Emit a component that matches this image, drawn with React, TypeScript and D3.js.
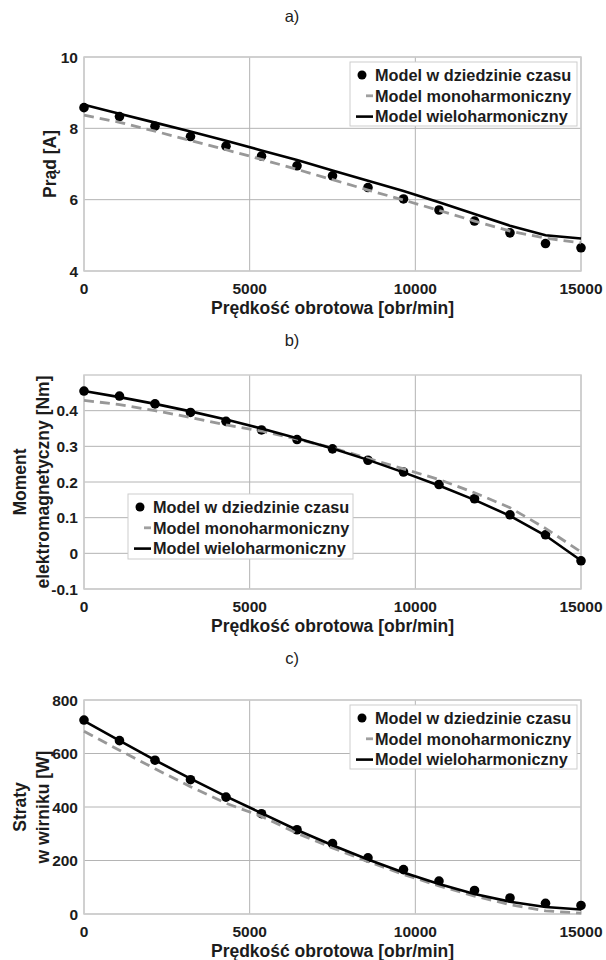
import React from 'react';
import * as d3 from 'd3';

// rotational speed of the sample points [obr/min]
const speeds = [0, 1071, 2143, 3214, 4286, 5357, 6429, 7500, 8571, 9643, 10714, 11786, 12857, 13929, 15000];
const xTicks = [0, 5000, 10000, 15000];
const xLabel = 'Prędkość obrotowa [obr/min]';
const legendLabels = ['Model w dziedzinie czasu', 'Model monoharmoniczny', 'Model wieloharmoniczny'];

// a) current
const currentTime = [8.58, 8.33, 8.06, 7.77, 7.5, 7.22, 6.95, 6.67, 6.34, 6.02, 5.71, 5.4, 5.07, 4.77, 4.65];
const currentMono = [8.37, 8.17, 7.92, 7.66, 7.4, 7.13, 6.85, 6.56, 6.27, 5.99, 5.7, 5.4, 5.12, 4.92, 4.79];
const currentMulti = [8.66, 8.41, 8.16, 7.91, 7.65, 7.38, 7.11, 6.82, 6.53, 6.24, 5.93, 5.6, 5.27, 5.0, 4.91];
const currentTicks = [4, 6, 8, 10];

// b) torque
const torqueTime = [0.455, 0.441, 0.419, 0.395, 0.37, 0.346, 0.319, 0.293, 0.261, 0.228, 0.193, 0.153, 0.108, 0.052, -0.021];
const torqueMono = [0.429, 0.417, 0.4, 0.381, 0.36, 0.343, 0.32, 0.296, 0.266, 0.237, 0.207, 0.17, 0.128, 0.07, 0.004];
const torqueMulti = [0.455, 0.438, 0.419, 0.398, 0.375, 0.35, 0.323, 0.294, 0.262, 0.227, 0.19, 0.15, 0.105, 0.05, -0.02];
const torqueTicks = [-0.1, 0, 0.1, 0.2, 0.3, 0.4];

// c) rotor losses
const lossTime = [725, 648, 575, 502, 437, 375, 315, 263, 210, 166, 123, 88, 60, 40, 32];
const lossMono = [683, 612, 543, 476, 414, 365, 302, 247, 196, 148, 105, 67, 35, 12, 3];
const lossMulti = [722, 648, 575, 506, 440, 377, 314, 257, 204, 155, 112, 75, 46, 26, 17];
const lossTicks = [0, 200, 400, 600, 800];

const font = 'Liberation Sans, Arial, Helvetica, sans-serif';
const textColor = '#1c1c1c';
const plotLeft = 84;
const plotRight = 581;
const plotH = 214;

const panels = [
  {
    title: 'a)', titleY: 22, top: 57, yDomain: [4, 10], yTicks: currentTicks,
    yLabel: ['Prąd [A]'], time: currentTime, mono: currentMono, multi: currentMulti,
    legend: { x: 350, y: 62, w: 227, h: 64 },
  },
  {
    title: 'b)', titleY: 346, top: 375, yDomain: [-0.1, 0.5], yTicks: torqueTicks,
    yLabel: ['Moment', 'elektromagnetyczny [Nm]'], time: torqueTime, mono: torqueMono, multi: torqueMulti,
    legend: { x: 128, y: 494, w: 225, h: 65 },
  },
  {
    title: 'c)', titleY: 664, top: 700, yDomain: [0, 800], yTicks: lossTicks,
    yLabel: ['Straty', 'w wirniku [W]'], time: lossTime, mono: lossMono, multi: lossMulti,
    legend: { x: 350, y: 705, w: 227, h: 64 },
  },
];

function Panel({ p }: { p: any }) {
  const x = d3.scaleLinear().domain([0, 15000]).range([plotLeft, plotRight]);
  const y = d3.scaleLinear().domain(p.yDomain).range([p.top + plotH, p.top]);
  const line = d3
    .line<number>()
    .x((_, i) => x(speeds[i]))
    .y(d => y(d));
  const bottom = p.top + plotH;
  const midY = p.top + plotH / 2;
  const lg = p.legend;

  return (
    <g>
      <text x={292} y={p.titleY} textAnchor="middle" fontSize={16.5} fill={textColor}>
        {p.title}
      </text>

      {/* grid */}
      {p.yTicks.map((t: number) => (
        <line key={'gy' + t} x1={plotLeft} x2={plotRight} y1={y(t)} y2={y(t)} stroke="#b4b4b4" strokeWidth={1} />
      ))}
      {xTicks.map(t => (
        <line key={'gx' + t} x1={x(t)} x2={x(t)} y1={p.top} y2={bottom} stroke="#b4b4b4" strokeWidth={1} />
      ))}
      <rect x={plotLeft} y={p.top} width={plotRight - plotLeft} height={plotH} fill="none" stroke="#cdcdcd" strokeWidth={1.5} />

      {/* tick labels */}
      {p.yTicks.map((t: number) => (
        <text key={'ty' + t} x={plotLeft - 6} y={y(t)} dy="0.36em" textAnchor="end" fontSize={15.5} fontWeight="bold" fill={textColor}>
          {String(t)}
        </text>
      ))}
      {xTicks.map(t => (
        <text key={'tx' + t} x={x(t)} y={bottom + 23} textAnchor="middle" fontSize={15.5} fontWeight="bold" fill={textColor}>
          {String(t)}
        </text>
      ))}
      <text x={(plotLeft + plotRight) / 2} y={bottom + 42.5} textAnchor="middle" fontSize={17.5} fontWeight="bold" fill={textColor}>
        {xLabel}
      </text>
      {p.yLabel.map((s: string, i: number) => {
        const lx = p.yLabel.length === 1 ? 50 : i === 0 ? 20 : 43;
        return (
          <text key={s} transform={`translate(${lx},${midY}) rotate(-90)`} textAnchor="middle" dominantBaseline="central"
            fontSize={17.5} fontWeight="bold" fill={textColor}>
            {s}
          </text>
        );
      })}

      {/* series */}
      {p.time.map((v: number, i: number) => (
        <circle key={'m' + i} cx={x(speeds[i])} cy={y(v)} r={4.8} fill="#000" />
      ))}
      <path d={line(p.mono) as string} fill="none" stroke="#989898" strokeWidth={2.8} strokeDasharray="10,6" />
      <path d={line(p.multi) as string} fill="none" stroke="#000" strokeWidth={2.6} />

      {/* legend */}
      <rect x={lg.x} y={lg.y} width={lg.w} height={lg.h} fill="#fff" stroke="#cdcdcd" strokeWidth={1} />
      {legendLabels.map((s, i) => {
        const ry = lg.y + 13 + i * 20.8;
        return (
          <g key={s}>
            {i === 0 && <circle cx={lg.x + 12} cy={ry} r={4.5} fill="#000" />}
            {i === 1 && <line x1={lg.x + 16} x2={lg.x + 23} y1={ry} y2={ry} stroke="#a0a0a0" strokeWidth={2.8} />}
            {i === 2 && <line x1={lg.x + 6} x2={lg.x + 23} y1={ry} y2={ry} stroke="#000" strokeWidth={2.6} />}
            <text x={lg.x + 25} y={ry} dy="0.36em" fontSize={16.3} fontWeight="bold" fill={textColor}>
              {s}
            </text>
          </g>
        );
      })}
    </g>
  );
}

export default function App() {
  return (
    <svg width={606} height={960} fontFamily={font} style={{ position: 'absolute', left: 0, top: 0, background: '#fff' }}>
      <rect width={606} height={960} fill="#fff" />
      {panels.map(p => (
        <Panel key={p.title} p={p} />
      ))}
    </svg>
  );
}
